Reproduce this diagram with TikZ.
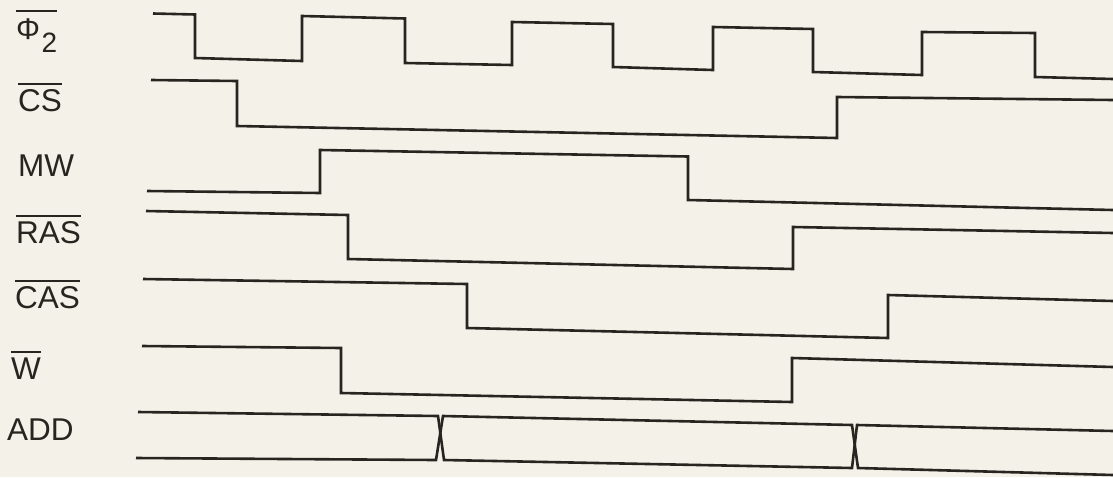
\documentclass[tikz,border=0pt]{standalone}
\usepackage{fontspec}
\setmainfont{Liberation Sans}
\definecolor{paper}{RGB}{244,241,232}
\definecolor{ink}{RGB}{40,36,32}
\newcommand\ovl[2][4pt]{\leavevmode\vbox{\hrule height 2pt\kern #1\hbox{#2}}}
\begin{document}
\begin{tikzpicture}[x=1pt,y=-1pt,
  wave/.style={draw=ink,line width=2.6pt,line join=miter},
  lab/.style={anchor=base west,inner sep=0pt,text=ink,font=\fontsize{31.5}{36}\selectfont}]
\fill[paper] (0,0) rectangle (1113,477);
\useasboundingbox (0,0) rectangle (1113,477);

% labels
\node[lab] (lphi) at (16,39) {\ovl[6pt]{\fontsize{30}{34}\selectfont Φ\kern1.5pt\raisebox{-13pt}{\fontsize{28}{30}\selectfont 2}}};
\node[lab] (lcs)  at (18,111) {\ovl{CS}};
\node[lab] (lmw)  at (18,176) {MW};
\node[lab] (lras) at (16,243) {\ovl{RAS}};
\node[lab] (lcas) at (15,308) {\ovl{CAS}};
\node[lab] (lw)   at (11,379) {\ovl{W}};
\node[lab] (ladd) at (7,440)  {ADD};

% Phi2
\draw[wave] (153,13.5) -- (195,14.5) -- (195,58) -- (302,61) -- (302,16) -- (405,18.5)
  -- (405,63) -- (512,65) -- (512,22) -- (613,24) -- (613,67) -- (713,70) -- (713,27)
  -- (813,29) -- (813,72) -- (922,75) -- (922,32) -- (1035,33) -- (1035,77) -- (1113,79);
% CS
\draw[wave] (151,80) -- (237,81) -- (237,126) -- (837,138) -- (837,97) -- (1113,100);
% MW
\draw[wave] (147,191) -- (320,193) -- (320,150) -- (688,156.5) -- (688,200) -- (1113,210);
% RAS
\draw[wave] (146,211) -- (348,215) -- (348,259) -- (793,269) -- (793,227) -- (1113,233);
% CAS
\draw[wave] (143,279) -- (467,284) -- (467,328) -- (888,338) -- (888,295) -- (1113,301);
% W
\draw[wave] (142,346) -- (341,348) -- (341,393) -- (792,402) -- (792,358) -- (1113,367);
% ADD
\draw[wave] (138,412) -- (438,416) -- (444,460) -- (852,468) -- (857,425) -- (1113,431);
\draw[wave] (136,458) -- (436,460) -- (443,416) -- (852,425) -- (858,468) -- (1113,475);
\end{tikzpicture}
\end{document}
